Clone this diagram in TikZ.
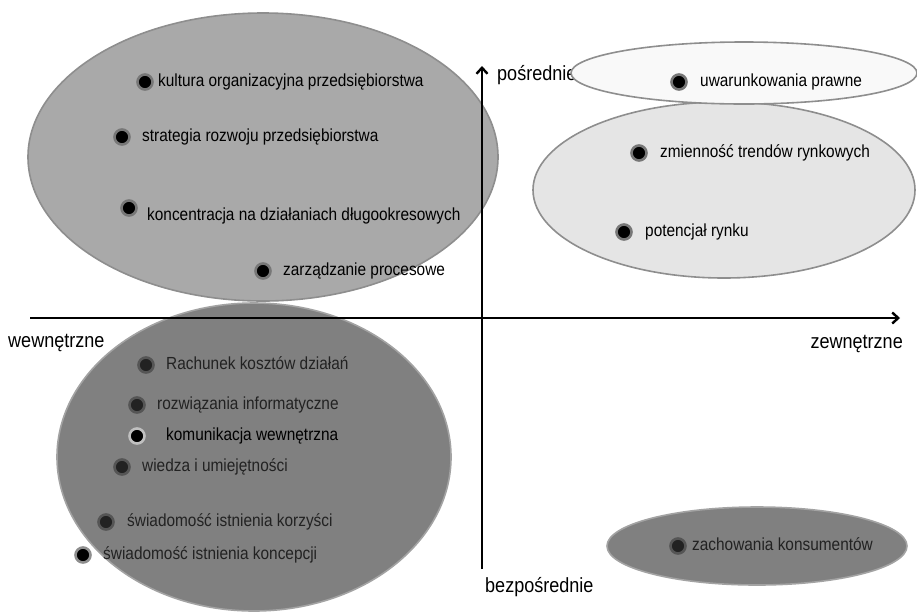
\documentclass[tikz,border=0pt]{standalone}
\usepackage{fontspec}
\setmainfont[FakeStretch=0.88]{Liberation Sans}
\usetikzlibrary{arrows.meta, positioning}
\definecolor{zoneMid}{HTML}{A9A9A9}
\definecolor{zoneDark}{HTML}{808080}
\definecolor{zoneLight}{HTML}{E5E5E5}
\definecolor{zonePale}{HTML}{F9F9F9}
\definecolor{rimGray}{HTML}{8E8E8E}
\definecolor{rimLight}{HTML}{A3A3A3}
\definecolor{ringGray}{HTML}{777777}
\definecolor{ringDark}{HTML}{555555}
\definecolor{ringPale}{HTML}{C0C0C0}
\definecolor{coreDark}{HTML}{222222}

\begin{document}
\begin{tikzpicture}[x=1pt, y=-1pt,
    zone/.style={draw=rimGray, line width=1.6pt},
    factor/.style={circle, fill=black, draw=ringGray, line width=2.6pt,
                   minimum size=15pt, inner sep=0pt},
    factorlbl/.style={anchor=west, inner sep=0pt, text height=12pt,
                      text depth=3.5pt, font=\fontsize{17.5}{20}\selectfont},
    axislbl/.style={inner sep=0pt, text height=14.5pt, text depth=4.5pt,
                    font=\fontsize{20.5}{24}\selectfont},
    axisline/.style={line width=2.8pt, -{Straight Barb[length=6pt, width=11pt, line width=2.4pt]}}]
  \useasboundingbox (0,0) rectangle (917,614);

  % zones
  \draw[zone, fill=zoneMid] (263,157) ellipse [x radius=235, y radius=144];
  \draw[zone, fill=zoneLight] (724,190) ellipse [x radius=191, y radius=88];
  \draw[zone, draw=rimLight, fill=zoneDark] (254,457) ellipse [x radius=197, y radius=154];
  \draw[zone, draw=rimLight, fill=zoneDark] (757,546) ellipse [x radius=150, y radius=39];

  % axes
  \coordinate (xbeg) at (30,318);
  \coordinate (xend) at (900,318);
  \coordinate (ybeg) at (482,569);
  \coordinate (yend) at (482,66);
  \draw[axisline] (xbeg) -- (xend);
  \draw[axisline] (ybeg) -- (yend);
  \node[axislbl, anchor=west] (wew) at (8,342) {wewnętrzne};
  \node[axislbl, anchor=east] (zew) at (903,343) {zewnętrzne};
  \node[axislbl, anchor=west] (bezp) at (485,587) {bezpośrednie};
  \node[axislbl, anchor=west] (posr) at (497,75) {pośrednie};

  \draw[zone, fill=zonePale] (744,73) ellipse [x radius=173, y radius=31];

  % wewnetrzne, posrednie
  \node[factor] (kult) at (145,82) {};
  \node[factorlbl] (kultL) at (158,82) {kultura organizacyjna przedsiębiorstwa};
  \node[factor] (strat) at (122,137) {};
  \node[factorlbl] (stratL) at (142,137) {strategia rozwoju przedsiębiorstwa};
  \node[factor] (konc) at (129,208) {};
  \node[factorlbl] (koncL) at (147,216) {koncentracja na działaniach długookresowych};
  \node[factor] (zarz) at (263,271) {};
  \node[factorlbl] (zarzL) at (283,271) {zarządzanie procesowe};

  % zewnetrzne, posrednie
  \node[factor] (uwar) at (679,82) {};
  \node[factorlbl] (uwarL) at (700,82) {uwarunkowania prawne};
  \node[factor] (zmien) at (639,153) {};
  \node[factorlbl] (zmienL) at (660,153) {zmienność trendów rynkowych};
  \node[factor] (pot) at (624,232) {};
  \node[factorlbl] (potL) at (645,232) {potencjał rynku};

  % wewnetrzne, bezposrednie
  \node[factor, fill=coreDark, draw=ringDark] (rach) at (146,365) {};
  \node[factorlbl, text=coreDark] (rachL) at (166,365) {Rachunek kosztów działań};
  \node[factor, fill=coreDark, draw=ringDark] (rozw) at (137,405) {};
  \node[factorlbl, text=coreDark] (rozwL) at (157,405) {rozwiązania informatyczne};
  \node[factor, draw=ringPale] (komu) at (137,436) {};
  \node[factorlbl] (komuL) at (166,436) {komunikacja wewnętrzna};
  \node[factor, fill=coreDark, draw=ringDark] (wied) at (122,467) {};
  \node[factorlbl, text=coreDark] (wiedL) at (142,467) {wiedza i umiejętności};
  \node[factor, fill=coreDark, draw=ringDark] (swk) at (106,522) {};
  \node[factorlbl, text=coreDark] (swkL) at (127,522) {świadomość istnienia korzyści};
  \node[factor, draw=rimGray] (swc) at (83,555) {};
  \node[factorlbl, text=coreDark] (swcL) at (103,555) {świadomość istnienia koncepcji};

  % zewnetrzne, bezposrednie
  \node[factor, fill=coreDark, draw=ringDark] (zach) at (678,546) {};
  \node[factorlbl, text=coreDark] (zachL) at (692,546) {zachowania konsumentów};
\end{tikzpicture}
\end{document}
